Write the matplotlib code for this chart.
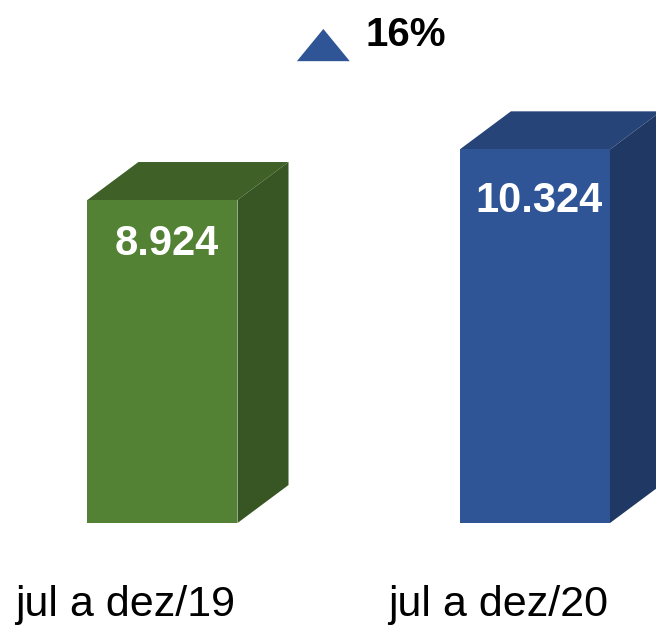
import matplotlib.pyplot as plt
from matplotlib.patches import Polygon

categories = ["jul a dez/19", "jul a dez/20"]
values = [8.924, 10.324]
value_labels = ["8.924", "10.324"]

front_colors = ["#548235", "#2f5597"]
top_colors = ["#3f6128", "#264478"]
side_colors = ["#375623", "#203864"]

plt.rcParams['font.family'] = ['Liberation Sans', 'DejaVu Sans']

fig = plt.figure(figsize=(6.56, 6.26), dpi=100)
ax = fig.add_axes([0, 0, 1, 1])

x = [0, 1]
width = 0.403
dx, dy = 0.137, 1.05   # 3d depth offset

ax.bar(x, values, width=width, color=front_colors, zorder=3)
for xi, v, tc, sc in zip(x, values, top_colors, side_colors):
    x0, x1 = xi - width / 2, xi + width / 2
    ax.add_patch(Polygon([(x0, v), (x1, v), (x1 + dx, v + dy), (x0 + dx, v + dy)],
                         closed=True, facecolor=tc, edgecolor='none', zorder=2))
    ax.add_patch(Polygon([(x1, 0), (x1 + dx, dy), (x1 + dx, v + dy), (x1, v)],
                         closed=True, facecolor=sc, edgecolor='none', zorder=2))

# value labels inside the bars
offs = [1.22, 1.42]
for xi, v, lab, o in zip(x, values, value_labels, offs):
    ax.text(xi + 0.012, v - o, lab, ha='center', va='center', color='white',
            fontsize=30, fontweight='bold', zorder=4)

# category labels
for xi, lab in zip(x, categories):
    ax.text(xi - 0.1, -2.265, lab, ha='center', va='center', color='black', fontsize=31)

# growth indicator
pct = round((values[1] / values[0] - 1) * 100)
ax.add_patch(Polygon([(0.361, 12.76), (0.503, 12.76), (0.432, 13.65)],
                     closed=True, facecolor='#2f5597', edgecolor='none'))
ax.text(0.544, 13.47, f"{pct}%", ha='left', va='center', color='black',
        fontsize=29, fontweight='bold')

ax.set_xlim(-0.436, 1.325)
ax.set_ylim(-2.845, 14.45)
ax.axis('off')

fig.savefig("out.png", dpi=100)
